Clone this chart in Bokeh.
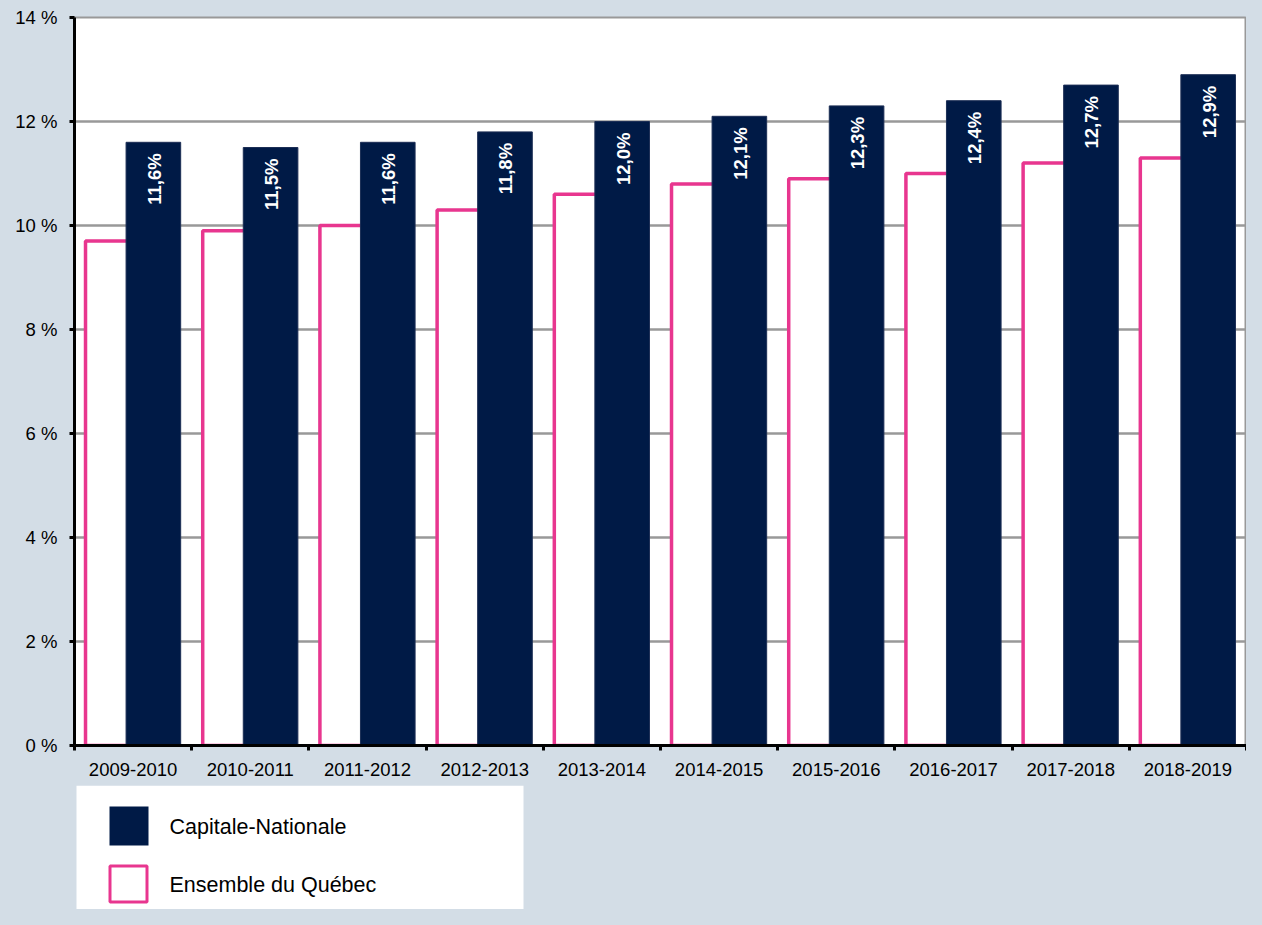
import numpy as np
from bokeh.plotting import figure
from bokeh.models import Range1d, FixedTicker, ColumnDataSource, GlobalInlineStyleSheet
from bokeh.layouts import column
from bokeh.core.properties import value
from bokeh.embed import file_html
from bokeh.resources import INLINE

# ---- data ----
categories = ["2009-2010", "2010-2011", "2011-2012", "2012-2013", "2013-2014",
              "2014-2015", "2015-2016", "2016-2017", "2017-2018", "2018-2019"]
capitale = [11.6, 11.5, 11.6, 11.8, 12.0, 12.1, 12.3, 12.4, 12.7, 12.9]
quebec = [9.7, 9.9, 10.0, 10.3, 10.6, 10.8, 10.9, 11.0, 11.2, 11.3]
y_ticks = [0, 2, 4, 6, 8, 10, 12, 14]
y_tick_labels = ["0 %", "2 %", "4 %", "6 %", "8 %", "10 %", "12 %", "14 %"]
series_names = ["Capitale-Nationale", "Ensemble du Québec"]

# ---- style ----
BG = "#d3dde6"
NAVY = "#001a46"
PINK = "#e8368f"
FONT = "Liberation Sans"

n = len(categories)
idx = np.arange(n)
bar_w = 0.466
src = ColumnDataSource(dict(
    xq=idx + 0.327,
    xc=idx + 0.673,
    q=quebec,
    c=capitale,
    lab=[f"{v:.1f}".replace(".", ",") + "%" for v in capitale],
))

p = figure(width=1246, height=785, x_range=Range1d(0, n), y_range=Range1d(0, 14),
           output_backend="svg", toolbar_location=None,
           min_border_left=74, min_border_right=0, min_border_top=17, min_border_bottom=40,
           background_fill_color="white", border_fill_color=BG,
           outline_line_color="#999999", outline_line_width=2)

# grid
p.xgrid.visible = False
p.ygrid.ticker = FixedTicker(ticks=y_ticks)
p.ygrid.grid_line_color = "#999999"
p.ygrid.grid_line_width = 2.5

# bars
p.vbar(x="xq", width=bar_w, top="q", bottom=0, source=src,
       fill_color="white", line_color=PINK, line_width=3.5)
p.vbar(x="xc", width=bar_w, top="c", bottom=0, source=src,
       fill_color=NAVY, line_color="#1c2e55", line_width=1)

p.text(x="xc", y="c", text="lab", source=src, angle=np.pi / 2,
       text_align="right", text_baseline="middle", y_offset=11, x_offset=1,
       text_color="white", text_font=value(FONT), text_font_style="bold",
       text_font_size="18.5px")

# y axis
ya = p.yaxis[0]
ya.ticker = FixedTicker(ticks=y_ticks, minor_ticks=[])
ya.major_label_overrides = {t: l for t, l in zip(y_ticks, y_tick_labels)}
ya.axis_line_color = "black"
ya.axis_line_width = 3
ya.major_tick_line_color = "black"
ya.major_tick_line_width = 3
ya.major_tick_out = 5
ya.major_tick_in = 0
ya.major_label_standoff = 12
ya.major_label_text_font = FONT
ya.major_label_text_font_size = "18.5px"
ya.major_label_text_color = "black"

# x axis
xa = p.xaxis[0]
xa.ticker = FixedTicker(ticks=list(idx + 0.5), minor_ticks=list(range(n + 1)))
xa.major_label_overrides = {float(i + 0.5): c for i, c in enumerate(categories)}
xa.axis_line_color = "black"
xa.axis_line_width = 3
xa.major_tick_out = 0
xa.major_tick_in = 0
xa.minor_tick_line_color = "black"
xa.minor_tick_line_width = 3
xa.minor_tick_out = 5
xa.minor_tick_in = 0
xa.major_label_standoff = 12
xa.major_label_text_font = FONT
xa.major_label_text_font_size = "18.5px"
xa.major_label_text_color = "black"

# ---- legend panel (frame aligned with the chart frame) ----
LW = 1172
LH = 124
leg = figure(width=1246, height=LH, x_range=Range1d(0, LW), y_range=Range1d(LH, 0),
             output_backend="svg", toolbar_location=None,
             x_axis_location=None, y_axis_location=None,
             min_border_left=74, min_border_right=0, min_border_top=0, min_border_bottom=0,
             background_fill_color=BG, border_fill_color=BG, outline_line_color=None)
leg.grid.visible = False
leg.quad(left=[2], right=[449], top=[0], bottom=[LH], fill_color="white", line_color=None)
leg.quad(left=[35], right=[74], top=[21], bottom=[60], fill_color=NAVY, line_color=None)
leg.quad(left=[35.5], right=[72.5], top=[80.5], bottom=[116.5],
         fill_color="white", line_color=PINK, line_width=3)
leg.text(x=[95, 95], y=[41, 99], text=series_names, text_align="left",
         text_baseline="middle", text_font=value(FONT), text_font_size="21.5px",
         text_color="black")

layout = column(p, leg, spacing=0)
layout.stylesheets = [GlobalInlineStyleSheet(css="body{background-color:#d3dde6;}")]

open("out.html", "w").write(file_html(layout, INLINE))
